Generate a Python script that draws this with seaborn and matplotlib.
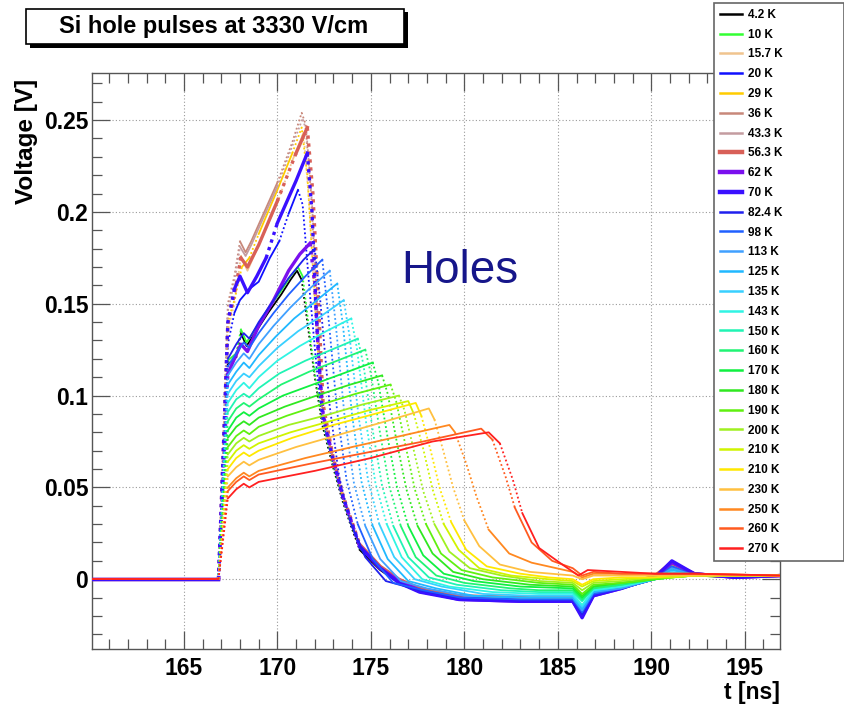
import numpy as np
import pandas as pd
import matplotlib
matplotlib.use("Agg")
import matplotlib.pyplot as plt
from matplotlib.lines import Line2D
from matplotlib.patches import Rectangle
from matplotlib.ticker import FixedLocator, FixedFormatter, MultipleLocator
import seaborn as sns

plt.rcParams["font.family"] = ["Liberation Sans", "DejaVu Sans"]

# ---------------------------------------------------------------- data
# Each pulse: (time [ns], voltage [V]) samples of the averaged waveform.
pulse_4K2 = [(160.1, 0.0), (166.85, 0.0), (167.15, 0.070), (167.35, 0.117), (167.8, 0.121), (168.05, 0.134),
             (168.35, 0.127), (168.8, 0.134), (169.5, 0.145), (170.2, 0.155), (170.7, 0.163), (171.05, 0.168),
             (171.3, 0.163), (171.6, 0.140), (172.0, 0.110), (172.4, 0.084), (172.95, 0.062), (173.5, 0.042),
             (173.9, 0.030), (174.4, 0.016), (175.5, 0.005), (176.5, -0.002), (177.6, -0.007), (179.7, -0.011),
             (183.0, -0.011), (185.8, -0.011), (186.3, -0.018), (186.9, -0.008), (188.4, -0.005), (190.2, 0.0),
             (191.1, 0.006), (192.3, 0.002), (194.5, 0.001), (196.9, 0.002)]
pulse_10K = [(160.1, 0.0), (166.85, 0.0), (167.15, 0.071), (167.35, 0.119), (167.8, 0.123), (168.05, 0.136),
             (168.35, 0.129), (168.8, 0.136), (169.5, 0.147), (170.2, 0.157), (170.7, 0.165), (171.1, 0.170),
             (171.35, 0.165), (171.65, 0.140), (172.0, 0.112), (172.4, 0.086), (172.95, 0.063), (173.5, 0.043),
             (173.9, 0.031), (174.4, 0.017), (175.5, 0.006), (176.5, -0.001), (177.6, -0.006), (179.7, -0.010),
             (183.0, -0.011), (185.8, -0.011), (186.3, -0.017), (186.9, -0.008), (188.4, -0.005), (190.2, 0.0),
             (191.1, 0.006), (192.3, 0.002), (194.5, 0.001), (196.9, 0.002)]
pulse_15K7 = [(160.1, 0.0), (166.85, 0.0), (167.15, 0.080), (167.35, 0.135), (167.7, 0.150), (168.05, 0.176),
              (168.4, 0.168), (169.0, 0.182), (170.0, 0.205), (170.8, 0.228), (171.4, 0.243), (171.7, 0.205),
              (172.0, 0.150), (172.4, 0.090), (172.95, 0.066), (173.5, 0.045), (173.9, 0.032), (174.4, 0.018),
              (175.5, 0.007), (176.5, 0.0), (177.6, -0.005), (179.7, -0.009), (183.0, -0.010), (185.8, -0.010),
              (186.3, -0.017), (186.9, -0.007), (188.4, -0.004), (190.2, 0.001), (191.1, 0.009), (192.3, 0.003),
              (194.5, 0.001), (196.9, 0.002)]
pulse_20K = [(160.1, 0.0), (166.85, 0.0), (167.15, 0.075), (167.35, 0.128), (167.7, 0.145), (168.0, 0.152),
             (168.5, 0.158), (169.0, 0.162), (169.6, 0.175), (170.1, 0.184), (170.6, 0.199), (171.1, 0.212),
             (171.35, 0.204), (171.7, 0.160), (172.1, 0.115), (172.4, 0.088), (172.95, 0.065), (173.5, 0.044),
             (173.9, 0.032), (174.4, 0.017), (175.5, 0.006), (176.5, -0.002), (177.6, -0.007), (179.7, -0.011),
             (183.0, -0.012), (185.8, -0.012), (186.3, -0.020), (186.9, -0.009), (188.4, -0.005), (190.2, 0.001),
             (191.1, 0.009), (192.3, 0.003), (194.5, 0.001), (196.9, 0.002)]
pulse_29K = [(160.1, 0.0), (166.85, 0.0), (167.15, 0.082), (167.35, 0.140), (167.7, 0.152), (168.1, 0.170),
             (168.5, 0.175), (169.0, 0.188), (170.0, 0.212), (170.8, 0.232), (171.3, 0.246), (171.6, 0.220),
             (171.9, 0.170), (172.2, 0.120), (172.45, 0.089), (172.95, 0.066), (173.5, 0.045), (173.9, 0.033),
             (174.4, 0.018), (175.5, 0.007), (176.5, 0.0), (177.6, -0.005), (179.7, -0.009), (183.0, -0.010),
             (185.8, -0.010), (186.3, -0.017), (186.9, -0.007), (188.4, -0.004), (190.2, 0.001), (191.1, 0.008),
             (192.3, 0.003), (194.5, 0.001), (196.9, 0.002)]
pulse_36K = [(160.1, 0.0), (166.85, 0.0), (167.15, 0.088), (167.35, 0.150), (167.7, 0.165), (168.0, 0.184),
             (168.3, 0.178), (168.6, 0.184), (169.3, 0.200), (170.0, 0.216), (170.8, 0.238), (171.3, 0.254),
             (171.5, 0.248), (171.8, 0.210), (172.1, 0.150), (172.4, 0.092), (172.95, 0.067), (173.5, 0.046),
             (173.9, 0.034), (174.4, 0.019), (175.5, 0.007), (176.5, 0.0), (177.6, -0.005), (179.7, -0.009),
             (183.0, -0.011), (185.8, -0.011), (186.3, -0.018), (186.9, -0.007), (188.4, -0.004), (190.2, 0.002),
             (191.1, 0.010), (192.3, 0.003), (194.5, 0.001), (196.9, 0.002)]
pulse_43K3 = [(160.1, 0.0), (166.85, 0.0), (167.15, 0.086), (167.35, 0.146), (167.7, 0.162), (168.0, 0.181),
              (168.3, 0.176), (168.6, 0.182), (169.3, 0.198), (170.0, 0.214), (170.8, 0.236), (171.35, 0.251),
              (171.55, 0.244), (171.85, 0.205), (172.15, 0.145), (172.4, 0.091), (172.95, 0.067), (173.5, 0.045),
              (173.9, 0.033), (174.4, 0.018), (175.5, 0.007), (176.5, 0.0), (177.6, -0.005), (179.7, -0.009),
              (183.0, -0.011), (185.8, -0.011), (186.3, -0.018), (186.9, -0.007), (188.4, -0.004), (190.2, 0.002),
              (191.1, 0.009), (192.3, 0.003), (194.5, 0.001), (196.9, 0.002)]
pulse_56K3 = [(160.1, 0.0), (166.85, 0.0), (167.15, 0.082), (167.35, 0.139), (167.7, 0.155), (168.05, 0.175),
              (168.4, 0.170), (169.0, 0.182), (170.0, 0.206), (171.0, 0.232), (171.6, 0.246), (171.9, 0.210),
              (172.2, 0.150), (172.45, 0.095), (172.95, 0.068), (173.5, 0.046), (173.9, 0.034), (174.4, 0.019),
              (175.5, 0.007), (176.5, 0.0), (177.6, -0.005), (179.7, -0.009), (183.0, -0.010), (185.8, -0.010),
              (186.3, -0.017), (186.9, -0.007), (188.4, -0.004), (190.2, 0.002), (191.1, 0.009), (192.3, 0.003),
              (194.5, 0.001), (196.9, 0.002)]
pulse_62K = [(160.1, 0.0), (166.85, 0.0), (167.15, 0.066), (167.35, 0.112), (167.7, 0.120), (168.05, 0.128),
             (168.4, 0.124), (169.0, 0.138), (169.8, 0.152), (170.6, 0.168), (171.2, 0.177), (171.75, 0.183),
             (172.0, 0.160), (172.2, 0.120), (172.45, 0.090), (172.95, 0.067), (173.5, 0.045), (173.9, 0.033),
             (174.4, 0.018), (175.5, 0.006), (176.5, -0.001), (177.6, -0.006), (179.7, -0.011), (183.0, -0.012),
             (185.8, -0.012), (186.3, -0.020), (186.9, -0.009), (188.4, -0.005), (190.2, 0.001), (191.1, 0.009),
             (192.3, 0.003), (194.5, 0.001), (196.9, 0.002)]
pulse_70K = [(160.1, 0.0), (166.85, 0.0), (167.15, 0.082), (167.35, 0.140), (167.7, 0.158), (168.0, 0.165),
             (168.4, 0.156), (168.9, 0.165), (169.4, 0.175), (170.0, 0.194), (171.0, 0.217), (171.6, 0.232),
             (171.85, 0.200), (172.1, 0.140), (172.4, 0.090), (172.95, 0.066), (173.5, 0.045), (173.9, 0.033),
             (174.4, 0.018), (175.5, 0.006), (176.5, -0.002), (177.6, -0.007), (179.7, -0.011), (183.0, -0.012),
             (185.8, -0.012), (186.3, -0.021), (186.9, -0.009), (188.4, -0.005), (190.2, 0.001), (191.1, 0.010),
             (192.3, 0.003), (194.5, 0.001), (196.9, 0.002)]
pulse_82K4 = [(160.1, 0.0), (166.85, 0.0), (167.15, 0.072), (167.35, 0.120), (167.8, 0.128), (168.2, 0.134),
              (168.5, 0.131), (169.0, 0.140), (169.8, 0.152), (170.6, 0.164), (171.4, 0.174), (172.0, 0.180),
              (172.3, 0.151), (172.8, 0.094), (173.3, 0.056), (173.9, 0.031), (174.7, 0.012), (175.8, -0.001),
              (177.6, -0.006), (179.7, -0.010), (183.0, -0.011), (185.8, -0.011), (186.3, -0.019), (186.9, -0.008),
              (188.4, -0.005), (190.2, 0.0), (191.1, 0.007), (192.3, 0.002), (196.9, 0.002)]
pulse_98K = [(160.1, 0.0), (166.85, 0.0), (167.15, 0.070), (167.35, 0.116), (167.8, 0.123), (168.2, 0.129),
             (168.5, 0.126), (169.0, 0.134), (169.8, 0.145), (170.6, 0.155), (171.5, 0.165), (172.4, 0.174),
             (172.7, 0.146), (173.2, 0.091), (173.7, 0.054), (174.3, 0.030), (175.1, 0.011), (176.2, -0.002),
             (177.8, -0.006), (179.8, -0.010), (183.0, -0.011), (185.8, -0.011), (186.3, -0.018), (186.9, -0.008),
             (188.4, -0.005), (190.2, 0.0), (191.1, 0.007), (192.3, 0.002), (196.9, 0.002)]
pulse_113K = [(160.1, 0.0), (166.85, 0.0), (167.15, 0.067), (167.35, 0.111), (167.8, 0.118), (168.2, 0.123),
              (168.5, 0.120), (169.0, 0.128), (169.8, 0.138), (170.7, 0.148), (171.7, 0.158), (172.8, 0.168),
              (173.1, 0.141), (173.6, 0.088), (174.1, 0.052), (174.7, 0.029), (175.5, 0.011), (176.6, -0.001),
              (178.0, -0.005), (180.0, -0.009), (183.0, -0.010), (185.8, -0.010), (186.3, -0.017), (186.9, -0.007),
              (188.4, -0.005), (190.2, 0.0), (191.1, 0.006), (192.3, 0.002), (196.9, 0.002)]
pulse_125K = [(160.1, 0.0), (166.85, 0.0), (167.15, 0.064), (167.35, 0.106), (167.8, 0.113), (168.2, 0.118),
              (168.5, 0.115), (169.0, 0.122), (169.9, 0.132), (170.9, 0.142), (172.0, 0.151), (173.2, 0.161),
              (173.5, 0.139), (174.0, 0.089), (174.5, 0.053), (175.1, 0.029), (175.9, 0.011), (177.0, -0.001),
              (178.5, -0.005), (180.5, -0.009), (183.0, -0.010), (185.8, -0.010), (186.3, -0.016), (186.9, -0.007),
              (188.4, -0.004), (190.2, 0.0), (191.1, 0.005), (192.3, 0.002), (196.9, 0.002)]
pulse_135K = [(160.1, 0.0), (166.85, 0.0), (167.15, 0.061), (167.35, 0.101), (167.8, 0.108), (168.2, 0.112),
              (168.5, 0.110), (169.0, 0.116), (170.0, 0.126), (171.1, 0.135), (172.3, 0.143), (173.55, 0.152),
              (173.85, 0.133), (174.35, 0.088), (174.85, 0.054), (175.45, 0.030), (176.25, 0.012), (177.35, 0.0),
              (178.8, -0.004), (181.0, -0.008), (183.5, -0.009), (185.8, -0.009), (186.3, -0.015), (186.9, -0.006),
              (188.4, -0.004), (190.2, 0.0), (191.1, 0.004), (192.3, 0.002), (196.9, 0.002)]
pulse_143K = [(160.1, 0.0), (166.85, 0.0), (167.15, 0.058), (167.35, 0.096), (167.8, 0.103), (168.2, 0.107),
              (168.5, 0.104), (169.0, 0.110), (170.0, 0.119), (171.2, 0.127), (172.6, 0.135), (173.95, 0.142),
              (174.25, 0.126), (174.75, 0.085), (175.25, 0.052), (175.85, 0.030), (176.65, 0.012), (177.75, 0.0),
              (179.2, -0.004), (181.5, -0.007), (184.0, -0.008), (185.8, -0.008), (186.3, -0.014), (186.9, -0.006),
              (188.4, -0.004), (190.2, 0.0), (191.1, 0.003), (192.3, 0.002), (196.9, 0.002)]
pulse_150K = [(160.1, 0.0), (166.85, 0.0), (167.15, 0.055), (167.35, 0.091), (167.8, 0.098), (168.2, 0.101),
              (168.5, 0.099), (169.0, 0.104), (170.1, 0.112), (171.5, 0.119), (172.9, 0.125), (174.3, 0.131),
              (174.6, 0.117), (175.1, 0.081), (175.6, 0.051), (176.2, 0.029), (177.0, 0.012), (178.1, 0.001),
              (179.6, -0.003), (182.0, -0.006), (184.0, -0.007), (185.8, -0.007), (186.3, -0.012), (186.9, -0.005),
              (188.4, -0.003), (190.2, 0.0), (191.1, 0.002), (192.3, 0.002), (196.9, 0.002)]
pulse_160K = [(160.1, 0.0), (166.85, 0.0), (167.15, 0.052), (167.35, 0.086), (167.8, 0.093), (168.2, 0.096),
              (168.5, 0.094), (169.0, 0.098), (170.2, 0.106), (171.7, 0.113), (173.2, 0.119), (174.7, 0.125),
              (175.0, 0.112), (175.5, 0.079), (176.0, 0.050), (176.6, 0.029), (177.4, 0.012), (178.5, 0.002),
              (180.0, -0.002), (182.5, -0.005), (184.0, -0.006), (185.8, -0.006), (186.3, -0.011), (186.9, -0.005),
              (188.4, -0.003), (190.2, 0.0), (191.1, 0.002), (192.3, 0.002), (196.9, 0.002)]
pulse_170K = [(160.1, 0.0), (166.85, 0.0), (167.15, 0.049), (167.35, 0.081), (167.8, 0.088), (168.2, 0.091),
              (168.5, 0.089), (169.0, 0.093), (170.3, 0.100), (171.9, 0.106), (173.5, 0.112), (175.1, 0.118),
              (175.4, 0.107), (175.9, 0.077), (176.4, 0.050), (177.0, 0.029), (177.8, 0.013), (178.9, 0.003),
              (180.5, -0.001), (183.0, -0.004), (185.8, -0.005), (186.3, -0.010), (186.9, -0.004), (188.4, -0.002),
              (190.2, 0.0), (191.1, 0.001), (192.3, 0.002), (196.9, 0.002)]
pulse_180K = [(160.1, 0.0), (166.85, 0.0), (167.15, 0.046), (167.35, 0.077), (167.8, 0.083), (168.2, 0.086),
              (168.5, 0.084), (169.0, 0.088), (170.4, 0.094), (172.1, 0.100), (173.9, 0.106), (175.6, 0.111),
              (175.9, 0.101), (176.4, 0.074), (176.9, 0.049), (177.5, 0.029), (178.3, 0.014), (179.4, 0.004),
              (181.0, 0.0), (183.5, -0.003), (185.8, -0.004), (186.3, -0.009), (186.9, -0.004), (188.4, -0.002),
              (190.2, 0.0), (191.1, 0.001), (192.3, 0.002), (196.9, 0.002)]
pulse_190K = [(160.1, 0.0), (166.85, 0.0), (167.15, 0.043), (167.35, 0.072), (167.8, 0.078), (168.2, 0.081),
              (168.5, 0.079), (169.0, 0.083), (170.5, 0.089), (172.3, 0.095), (174.2, 0.101), (176.05, 0.106),
              (176.35, 0.097), (176.85, 0.073), (177.35, 0.049), (177.95, 0.030), (178.75, 0.014), (179.85, 0.005),
              (181.5, 0.001), (184.0, -0.002), (185.8, -0.003), (186.3, -0.008), (186.9, -0.003), (188.4, -0.002),
              (190.2, 0.0), (191.1, 0.001), (192.3, 0.002), (196.9, 0.002)]
pulse_200K = [(160.1, 0.0), (166.85, 0.0), (167.15, 0.041), (167.35, 0.068), (167.8, 0.074), (168.2, 0.077),
              (168.5, 0.075), (169.0, 0.078), (170.6, 0.084), (172.5, 0.089), (174.5, 0.095), (176.5, 0.100),
              (176.8, 0.092), (177.3, 0.070), (177.8, 0.048), (178.4, 0.030), (179.2, 0.015), (180.3, 0.006),
              (182.0, 0.002), (184.0, -0.001), (185.8, -0.002), (186.3, -0.006), (186.9, -0.002), (188.4, -0.001),
              (190.2, 0.001), (191.1, 0.001), (192.3, 0.002), (196.9, 0.002)]
pulse_210Ka = [(160.1, 0.0), (166.85, 0.0), (167.15, 0.038), (167.35, 0.064), (167.8, 0.070), (168.2, 0.073),
               (168.5, 0.071), (169.0, 0.074), (170.7, 0.080), (172.8, 0.086), (174.9, 0.092), (177.0, 0.097),
               (177.3, 0.090), (177.8, 0.071), (178.3, 0.049), (178.9, 0.030), (179.7, 0.016), (180.8, 0.006),
               (182.5, 0.002), (184.5, 0.0), (185.8, -0.001), (186.3, -0.004), (186.9, -0.001), (188.4, 0.0),
               (190.2, 0.001), (191.1, 0.001), (192.3, 0.002), (196.9, 0.002)]
pulse_210Kb = [(160.1, 0.0), (166.85, 0.0), (167.15, 0.036), (167.35, 0.060), (167.8, 0.066), (168.2, 0.069),
               (168.5, 0.067), (169.0, 0.070), (170.8, 0.077), (173.0, 0.084), (175.2, 0.090), (177.4, 0.096),
               (177.7, 0.089), (178.2, 0.070), (178.7, 0.049), (179.3, 0.031), (180.1, 0.016), (181.2, 0.007),
               (183.0, 0.003), (184.5, 0.001), (185.8, 0.0), (186.3, -0.003), (186.9, 0.0), (188.4, 0.001),
               (190.2, 0.001), (191.1, 0.002), (192.3, 0.002), (196.9, 0.002)]
pulse_230K = [(160.1, 0.0), (166.85, 0.0), (167.15, 0.034), (167.35, 0.056), (167.8, 0.061), (168.2, 0.064),
              (168.5, 0.062), (169.0, 0.065), (171.0, 0.072), (173.4, 0.079), (175.8, 0.086), (178.1, 0.093),
              (178.4, 0.087), (178.9, 0.069), (179.4, 0.050), (180.0, 0.032), (180.8, 0.018), (181.9, 0.008),
              (183.5, 0.004), (185.8, 0.002), (186.3, 0.0), (186.9, 0.002), (188.4, 0.002), (190.2, 0.002),
              (192.3, 0.002), (196.9, 0.002)]
pulse_250K = [(160.1, 0.0), (166.85, 0.0), (167.15, 0.030), (167.35, 0.050), (167.8, 0.055), (168.2, 0.058),
              (168.5, 0.056), (169.0, 0.059), (171.5, 0.066), (174.0, 0.072), (176.6, 0.078), (179.2, 0.084),
              (179.5, 0.080), (180.1, 0.063), (180.65, 0.045), (181.3, 0.027), (182.4, 0.014), (183.6, 0.009),
              (185.8, 0.004), (186.3, 0.001), (186.9, 0.003), (188.4, 0.003), (190.2, 0.003), (192.3, 0.003),
              (196.9, 0.002)]
pulse_260K = [(160.1, 0.0), (166.85, 0.0), (167.15, 0.029), (167.35, 0.048), (167.8, 0.053), (168.2, 0.056),
              (168.5, 0.054), (169.0, 0.057), (171.8, 0.063), (174.8, 0.069), (177.8, 0.075), (180.9, 0.082),
              (181.5, 0.076), (182.2, 0.056), (182.7, 0.039), (183.6, 0.020), (184.7, 0.010), (185.8, 0.006),
              (186.3, 0.002), (186.9, 0.004), (188.4, 0.003), (190.2, 0.003), (192.3, 0.003), (196.9, 0.002)]
pulse_270K = [(160.1, 0.0), (166.85, 0.0), (167.15, 0.026), (167.35, 0.044), (167.8, 0.049), (168.2, 0.052),
              (168.5, 0.050), (169.0, 0.053), (172.0, 0.059), (175.0, 0.066), (178.3, 0.075), (181.3, 0.080),
              (181.9, 0.074), (182.6, 0.054), (183.1, 0.036), (184.0, 0.017), (185.1, 0.009), (186.1, 0.002),
              (186.6, 0.005), (188.4, 0.004), (190.2, 0.003), (192.3, 0.003), (196.9, 0.002)]

pulses = [pulse_4K2, pulse_10K, pulse_15K7, pulse_20K, pulse_29K, pulse_36K, pulse_43K3, pulse_56K3,
          pulse_62K, pulse_70K, pulse_82K4, pulse_98K, pulse_113K, pulse_125K, pulse_135K, pulse_143K,
          pulse_150K, pulse_160K, pulse_170K, pulse_180K, pulse_190K, pulse_200K, pulse_210Ka, pulse_210Kb,
          pulse_230K, pulse_250K, pulse_260K, pulse_270K]
temperatures = ["4.2 K", "10 K", "15.7 K", "20 K", "29 K", "36 K", "43.3 K", "56.3 K", "62 K", "70 K",
                "82.4 K", "98 K", "113 K", "125 K", "135 K", "143 K", "150 K", "160 K", "170 K", "180 K",
                "190 K", "200 K", "210 K", "210 K", "230 K", "250 K", "260 K", "270 K"]
colors = ["#000000", "#33ff33", "#f0c48e", "#1010ff", "#ffcc00", "#c8887a", "#c49ca0", "#d86058",
          "#7a10ee", "#3a10ff", "#2020ee", "#2060ff", "#40a0ff", "#20b8ff", "#38d0ff", "#30f4e4",
          "#20f4b4", "#20f474", "#10f040", "#30e820", "#60f010", "#a0f020", "#d0f400", "#ffe800",
          "#ffc040", "#ff8820", "#ff5a20", "#ff2020"]
heavy = {"56.3 K", "62 K", "70 K"}

xtick_values = [165, 170, 175, 180, 185, 190, 195]
xtick_labels = ["165", "170", "175", "180", "185", "190", "195"]
ytick_values = [0.0, 0.05, 0.10, 0.15, 0.20, 0.25]
ytick_labels = ["0", "0.05", "0.1", "0.15", "0.2", "0.25"]

EDGE_SLOPE = 0.026  # V/ns; faster sections are sparsely sampled and show as dots


def pulse_frame(points):
    """Split a pulse into slow (continuous) and fast (dotted) sections."""
    t = np.array([p[0] for p in points])
    v = np.array([p[1] for p in points])
    fast = np.abs(np.diff(v) / np.diff(t)) > EDGE_SLOPE
    rows, seg = [], 0
    for i, f in enumerate(fast):
        if i and f != fast[i - 1]:
            seg += 1
        kind = "edge" if f else "body"
        rows.append((t[i], v[i], seg, kind))
        rows.append((t[i + 1], v[i + 1], seg, kind))
    return pd.DataFrame(rows, columns=["t", "V", "seg", "kind"]).drop_duplicates()


# ---------------------------------------------------------------- figure
W, H = 845, 707
fig = plt.figure(figsize=(W / 100, H / 100), dpi=100, facecolor="white")
ax = fig.add_axes([92.3 / W, 1 - 649 / H, 688 / W, 575.7 / H])
ax.set_facecolor("white")

for pts, lab, col in zip(pulses, temperatures, colors):
    lw = 2.4 if lab in heavy else 1.3
    sns.lineplot(data=pulse_frame(pts), x="t", y="V", units="seg", estimator=None,
                 style="kind", style_order=["body", "edge"],
                 dashes={"body": "", "edge": (1.0, 1.4)},
                 color=col, linewidth=lw, sort=False, legend=False, ax=ax, zorder=3)

ax.set_xlim(160.1, 196.9)
ax.set_ylim(-0.038, 0.2755)
ax.xaxis.set_major_locator(FixedLocator(xtick_values))
ax.xaxis.set_major_formatter(FixedFormatter(xtick_labels))
ax.yaxis.set_major_locator(FixedLocator(ytick_values))
ax.yaxis.set_major_formatter(FixedFormatter(ytick_labels))
ax.xaxis.set_minor_locator(MultipleLocator(1))
ax.yaxis.set_minor_locator(MultipleLocator(0.01))
ax.tick_params(which="both", direction="in", top=True, right=True, color="#555555", width=0.9)
ax.tick_params(which="major", length=13)
ax.tick_params(which="minor", length=7)
ax.tick_params(axis="x", which="major", labelsize=16.5, pad=6)
ax.tick_params(axis="y", which="major", labelsize=16.5, pad=3)
for lbl in ax.get_xticklabels() + ax.get_yticklabels():
    lbl.set_fontweight("bold")
for sp in ax.spines.values():
    sp.set_color("#555555")
    sp.set_linewidth(1.0)
ax.set_axisbelow(True)
ax.grid(True, which="major", color="#9a9a9a", linestyle=(0, (1, 2)), linewidth=0.8)

ax.set_xlabel("t [ns]", loc="right", fontsize=16.5, fontweight="bold")
ax.xaxis.set_label_coords(1.0, -0.056)
ax.set_ylabel("Voltage [V]", loc="top", fontsize=17.5, fontweight="bold")
ax.yaxis.set_label_coords(-0.079, 0.99)

# carrier label inside the frame
fig.text(401 / W, 1 - 283 / H, "Holes", fontsize=33, color="#16168a", ha="left", va="baseline")

# title box with drop shadow
fig.add_artist(Rectangle((30 / W, 1 - 47.5 / H), 378 / W, 35 / H, transform=fig.transFigure,
                         facecolor="black", edgecolor="none", zorder=5))
fig.add_artist(Rectangle((26 / W, 1 - 44 / H), 378 / W, 35 / H, transform=fig.transFigure,
                         facecolor="white", edgecolor="black", linewidth=1.2, zorder=6))
fig.text(214 / W, 1 - 27 / H, "Si hole pulses at 3330 V/cm", fontsize=17, fontweight="bold",
         ha="center", va="center", zorder=7)

# temperature legend
handles = [Line2D([], [], color=c, linewidth=3.2 if lab in heavy else 1.8)
           for lab, c in zip(temperatures, colors)]
leg = fig.legend(handles, temperatures, loc="upper left",
                 bbox_to_anchor=(714 / W, 0, 130 / W, 1 - 3 / H), bbox_transform=fig.transFigure,
                 mode="expand", ncol=1, frameon=True, fancybox=False, borderaxespad=0,
                 prop={"weight": "bold", "size": 8.5}, handlelength=1.9, handletextpad=0.5,
                 labelspacing=0.66, borderpad=0.5)
leg.get_frame().set_edgecolor("#666666")
leg.get_frame().set_linewidth(1.2)
leg.get_frame().set_alpha(1.0)
leg.set_zorder(10)

fig.savefig("out.png", dpi=100, facecolor="white")
